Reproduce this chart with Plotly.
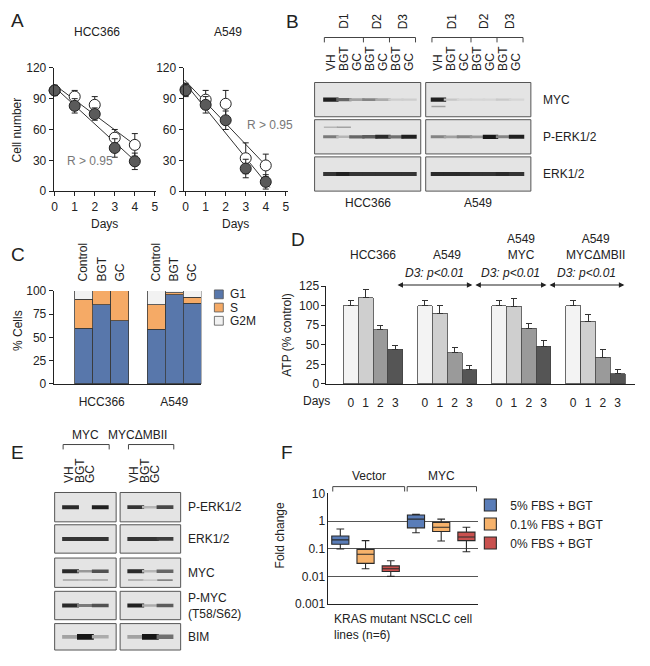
import plotly.graph_objects as go
import numpy as np

# The page body has an 8px margin, so the figure is laid out in screen pixels
# and converted to figure-relative coordinates.
OFF = 8
FW, FH = 634, 650
FONT = "Liberation Sans, Arial, Helvetica, sans-serif"
DARK = "#222222"

# ---------------- data ----------------
# Panel A
days = [0, 1, 2, 3, 4]
a_xticks = [0, 1, 2, 3, 4, 5]
a_yticks = [0, 30, 60, 90, 120]
hcc_bgt = [98, 83, 75, 42, 29]
hcc_bgt_err = [5, 7, 6, 9, 8]
hcc_gc = [98, 92, 84, 52, 45]
hcc_gc_err = [5, 6, 8, 8, 11]
a549_bgt = [98, 84, 69, 22, 9]
a549_bgt_err = [6, 8, 9, 9, 7]
a549_gc = [99, 89, 85, 32, 25]
a549_gc_err = [6, 9, 13, 15, 11]

# Panel B (band intensities 0..1 per lane)
b_lanes = ["VH", "BGT", "GC", "BGT", "GC", "BGT", "GC"]
b_days = ["D1", "D2", "D3"]
b_day_lanes = [[0, 2], [3, 4], [5, 6]]
b_rows = ["MYC", "P-ERK1/2", "ERK1/2"]
b_hcc_myc = [0.95, 0.6, 0.3, 0.45, 0.25, 0.08, 0.08]
b_hcc_perk = [0.5, 0.2, 0.6, 0.65, 0.9, 0.55, 0.95]
b_hcc_perk_upper = [0.2, 0.3, 0, 0, 0, 0, 0]
b_hcc_erk = [0.85, 0.95, 0.85, 0.85, 0.85, 0.85, 0.85]
b_a549_myc = [0.95, 0.12, 0.04, 0.04, 0.04, 0.1, 0.04]
b_a549_myc_lower = [0.3, 0, 0, 0, 0, 0, 0]
b_a549_perk = [0.45, 0.3, 0.45, 0.35, 1.0, 0.45, 0.95]
b_a549_erk = [0.9, 0.9, 0.9, 0.85, 0.85, 0.9, 0.85]

# Panel C
c_labels = ["Control", "BGT", "GC", "Control", "BGT", "GC"]
c_groups = ["HCC366", "A549"]
c_g1 = [60, 85, 68, 59, 96, 87]
c_s = [31, 15, 32, 26, 2, 6]
c_g2m = [9, 0, 0, 15, 2, 7]
c_phases = ["G1", "S", "G2M"]
c_yticks = [0, 25, 50, 75, 100]

# Panel D
d_groups = ["HCC366", "A549", "A549<br>MYC", "A549<br>MYC\u0394MBII"]
d_days = ["0", "1", "2", "3"]
d_vals = [[100, 110, 69, 44], [100, 90, 40, 18], [100, 99, 71, 48], [100, 80, 34, 13]]
d_err = [[7, 10, 5, 5], [7, 10, 7, 6], [7, 10, 6, 8], [7, 9, 10, 6]]
d_yticks = [0, 25, 50, 75, 100, 125]
d_pval = "D3: p&lt;0.01"

# Panel E
e_lanes = ["VH", "BGT", "GC"]
e_cols = ["MYC", "MYC\u0394MBII"]
e_rows = ["P-ERK1/2", "ERK1/2", "MYC", "P-MYC<br>(T58/S62)", "BIM"]
e_myc_perk = [0.9, 0.0, 0.95]
e_dmb_perk = [0.85, 0.2, 0.75]
e_myc_erk = [0.85, 0.85, 0.85]
e_dmb_erk = [0.85, 0.85, 0.8]
e_myc_myc = [0.9, 0.35, 0.7]
e_myc_myc_lower = [0.3, 0.25, 0.3]
e_dmb_myc = [0.9, 0.2, 0.6]
e_dmb_myc_lower = [0.3, 0.15, 0.45]
e_myc_pmyc = [0.9, 0.5, 0.7]
e_dmb_pmyc = [0.95, 0.25, 0.65]
e_myc_bim = [0.3, 1.0, 0.25]
e_dmb_bim = [0.3, 1.0, 0.55]

# Panel F (box statistics, fold change)
f_groups = ["Vector", "MYC"]
f_conds = ["5% FBS + BGT", "0.1% FBS + BGT", "0% FBS + BGT"]
f_lo = [[0.098, 0.38], [0.019, 0.19], [0.010, 0.078]]
f_q1 = [[0.146, 0.57], [0.0295, 0.42], [0.015, 0.197]]
f_med = [[0.21, 1.18], [0.063, 0.6], [0.019, 0.265]]
f_q3 = [[0.29, 1.67], [0.095, 0.9], [0.024, 0.4]]
f_hi = [[0.52, 1.77], [0.197, 1.18], [0.037, 0.6]]
f_yticks = [0.001, 0.01, 0.1, 1, 10]
f_note = "KRAS mutant NSCLC cell<br>lines (n=6)"

# ---------------- helpers ----------------
fig = go.Figure()
layout = dict(width=FW, height=FH, margin=dict(l=0, r=0, t=0, b=0),
              paper_bgcolor="white", plot_bgcolor="white",
              font=dict(family=FONT, size=12, color=DARK),
              barmode="stack", boxmode="overlay", showlegend=True)
shapes = []
anns = []
axn = [0]


def PX(x):
    return (x - OFF) / FW


def PY(y):
    return 1 - (y - OFF) / FH


def new_axes(x0, x1, y0, y1, xr, yr, xkw=None, ykw=None):
    axn[0] += 1
    n = axn[0]
    s = "" if n == 1 else str(n)
    base = dict(showgrid=False, zeroline=False, showline=False,
                showticklabels=False, ticks="", fixedrange=True)
    xa = dict(base, domain=[PX(x0), PX(x1)], range=xr, anchor="y" + s)
    ya = dict(base, domain=[PY(y1), PY(y0)], range=yr, anchor="x" + s)
    if xkw:
        xa.update(xkw)
    if ykw:
        ya.update(ykw)
    layout["xaxis" + s] = xa
    layout["yaxis" + s] = ya
    return "x" + s, "y" + s


def text(x, y, s, size=12, xanchor="center", yanchor="middle", angle=0,
         color=DARK, xref="paper", yref="paper", align="center"):
    anns.append(dict(x=PX(x) if xref == "paper" else x,
                     y=PY(y) if yref == "paper" else y,
                     xref=xref, yref=yref, text=s, showarrow=False,
                     xanchor=xanchor, yanchor=yanchor, textangle=angle,
                     align=align, font=dict(size=size, color=color, family=FONT)))


def bracket(xa, xl, xr, ytop, ybot, dividers=()):
    path = f"M {xl},{PY(ybot)} L {xl},{PY(ytop)} L {xr},{PY(ytop)} L {xr},{PY(ybot)}"
    for d in dividers:
        path += f" M {d},{PY(ytop)} L {d},{PY(ybot)}"
    shapes.append(dict(type="path", xref=xa, yref="paper", path=path,
                       line=dict(color="#444", width=1)))


BLOT_BG = "#e4e4e4"


def band_color(v):
    g = int(round(222 - v * 200))
    return f"rgb({g},{g},{g})"


def blot_bg(xa, ya):
    shapes.append(dict(type="rect", xref=xa + " domain", yref=ya + " domain",
                       x0=0, x1=1, y0=0, y1=1, fillcolor=BLOT_BG,
                       line=dict(color="#555", width=1), layer="below"))


def add_bands(xa, ya, vals, ypos=0.5, length=11, thick=3.0):
    xs = [i for i, v in enumerate(vals) if v > 0]
    vs = [v for v in vals if v > 0]
    fig.add_trace(go.Scatter(
        x=xs, y=[ypos] * len(xs), mode="markers", xaxis=xa, yaxis=ya,
        marker=dict(symbol="line-ew", size=length,
                    line=dict(width=[thick * (0.55 + 0.6 * v) for v in vs],
                              color=[band_color(v) for v in vs])),
        hoverinfo="skip", showlegend=False, cliponaxis=True))


# ---------------- Panel A ----------------
def a_y(py):
    return (188 - py) * 120 / 126


axis_line = dict(showline=True, linecolor=DARK, linewidth=1, ticks="outside",
                 ticklen=4, tickcolor=DARK, showticklabels=True,
                 tickfont=dict(size=12))
a_panels = [
    (52, 155, [-0.05, 5.05], hcc_bgt, hcc_bgt_err, hcc_gc, hcc_gc_err, "HCC366", 96, (89, 157)),
    (183, 288, [-0.1, 5.1], a549_bgt, a549_bgt_err, a549_gc, a549_gc_err, "A549", 228, (270, 120)),
]
for (x0, x1, xr, bgt, bgt_e, gc, gc_e, title, tx, rpos) in a_panels:
    xa, ya = new_axes(x0, x1, 62, 188, xr, [0, 120],
                      dict(axis_line, tickvals=a_xticks),
                      dict(axis_line, tickvals=a_yticks))
    for yv in (bgt, gc):
        coef = np.polyfit(days, yv, 1)
        lx = np.array([-0.05, 4.2])
        fig.add_trace(go.Scatter(x=lx, y=np.polyval(coef, lx), mode="lines",
                                 line=dict(color="#333", width=1), xaxis=xa, yaxis=ya,
                                 hoverinfo="skip", showlegend=False, cliponaxis=False))
    for yv, ev, fill in ((gc, gc_e, "white"), (bgt, bgt_e, "#5a5a5a")):
        fig.add_trace(go.Scatter(
            x=days, y=yv, mode="markers", xaxis=xa, yaxis=ya, cliponaxis=False,
            error_y=dict(type="data", array=ev, color="#222", thickness=1, width=3),
            marker=dict(size=11, color=fill, line=dict(color="#222", width=1)),
            hoverinfo="skip", showlegend=False))
    # mini legend
    for nm, fill, py in (("BGT", "#5a5a5a", 49), ("GC", "white", 59.5)):
        fig.add_trace(go.Scatter(x=[1], y=[a_y(py)], mode="markers", xaxis=xa, yaxis=ya,
                                 cliponaxis=False, hoverinfo="skip", showlegend=False,
                                 marker=dict(size=10, color=fill, line=dict(color="#222", width=1))))
        text(1.55, a_y(py), nm, size=12, xanchor="left", xref=xa, yref=ya)
    text(tx, 25, title, size=12)
    text(rpos[0], rpos[1], "R &gt; 0.95", size=12, color="#777")
    text((x0 + x1) / 2, 222, "Days", size=12)
text(16, 125, "Cell number", size=12, angle=-90)

# ---------------- Panel B ----------------
b_cols = [
    (315, 422, [-1.25, 6.9], [b_hcc_myc, b_hcc_perk, b_hcc_erk], "HCC366"),
    (427, 533, [-0.98, 7.1], [b_a549_myc, b_a549_perk, b_a549_erk], "A549"),
]
b_row_y = [(77, 112), (115, 150), (153, 188)]
for ci, (x0, x1, xr, rows, name) in enumerate(b_cols):
    for ri, (y0, y1) in enumerate(b_row_y):
        xkw = None
        if ri == 0:
            xkw = dict(side="top", showticklabels=True, tickvals=list(range(len(b_lanes))),
                       ticktext=b_lanes, tickangle=-90, ticks="outside", ticklen=8,
                       tickcolor="rgba(0,0,0,0)", tickfont=dict(size=12))
        xa, ya = new_axes(x0, x1, y0, y1, xr, [0, 1], xkw)
        blot_bg(xa, ya)
        add_bands(xa, ya, rows[ri], 0.5, length=11, thick=3.6)
        if ri == 0 and ci == 1:
            add_bands(xa, ya, b_a549_myc_lower, 0.3, length=10, thick=2)
        if ri == 1 and ci == 0:
            add_bands(xa, ya, b_hcc_perk_upper, 0.78, length=10, thick=2)
        if ri == 0:
            divs = [b_day_lanes[k][1] + 0.5 for k in range(len(b_day_lanes) - 1)]
            bracket(xa, -0.5, len(b_lanes) - 0.5, 31, 36, divs)
            for k, d in enumerate(b_days):
                lo, hi = b_day_lanes[k]
                text((lo + hi) / 2, 14, d, size=12, angle=-90, xref=xa, yref="paper")
    text((x0 + x1) / 2, 200, name, size=12)
for ri, (y0, y1) in enumerate(b_row_y):
    text(543, (y0 + y1) / 2, b_rows[ri], size=12, xanchor="left")

# ---------------- Panel C ----------------
c_pos = [i + i // 3 for i in range(len(c_labels))]
c_colors = ["#5877ab", "#f5aa66", "#f2f2f2"]
xc, yc = new_axes(52, 201, 290, 385, [-1.65, 6.5], [0, 100],
                  dict(showline=True, linecolor=DARK, showticklabels=True,
                       tickvals=[1, 5], ticktext=c_groups, ticks="outside", ticklen=7,
                       tickcolor="rgba(0,0,0,0)", tickfont=dict(size=12)),
                  dict(axis_line, tickvals=c_yticks))
for vals, col, nm in zip((c_g1, c_s, c_g2m), c_colors, c_phases):
    fig.add_trace(go.Bar(x=c_pos, y=vals, width=1, marker=dict(color=col, line=dict(color="#3a3a3a", width=0.8)),
                         xaxis=xc, yaxis=yc, showlegend=False, hoverinfo="skip"))
axn[0] += 1
ctop = "x" + str(axn[0])
layout["xaxis" + str(axn[0])] = dict(overlaying=xc, side="top", range=[-1.65, 6.5], anchor=yc,
                                      showgrid=False, zeroline=False, showline=False,
                                      tickvals=c_pos, ticktext=c_labels, tickangle=-90,
                                      ticks="outside", ticklen=6, tickcolor="rgba(0,0,0,0)",
                                      tickfont=dict(size=12), fixedrange=True)
fig.add_trace(go.Scatter(x=[0], y=[0], xaxis=ctop, yaxis=yc, mode="markers",
                         marker=dict(opacity=0), hoverinfo="skip", showlegend=False))
for k, (nm, col) in enumerate(zip(c_phases, c_colors)):
    yy = 293.5 + 13.5 * k
    shapes.append(dict(type="rect", xref="paper", yref="paper", x0=PX(214), x1=PX(223),
                       y0=PY(yy + 4.5), y1=PY(yy - 4.5), fillcolor=col,
                       line=dict(color="#555", width=0.8)))
    text(228, yy, nm, size=12, xanchor="left")
text(16, 330, "% Cells", size=12, angle=-90)

# ---------------- Panel D ----------------
d_colors = ["#f3f3f3", "#cfcfcf", "#9a9a9a", "#555555"]
d_pos = [[g * 5 + i for g in range(len(d_groups))] for i in range(len(d_days))]
xd, yd = new_axes(327, 638, 285, 385, [-1.64, 19.17], [0, 125],
                  dict(showline=True, linecolor=DARK, showticklabels=True,
                       tickvals=[p for row in d_pos for p in row],
                       ticktext=[d_days[i] for i in range(len(d_days)) for _ in d_groups],
                       ticks="outside", ticklen=8, tickcolor="rgba(0,0,0,0)", tickfont=dict(size=12)),
                  dict(axis_line, tickvals=d_yticks))
for i in range(len(d_days)):
    fig.add_trace(go.Bar(
        x=d_pos[i], y=[d_vals[g][i] for g in range(len(d_groups))], width=1,
        marker=dict(color=d_colors[i], line=dict(color="#444", width=0.8)),
        error_y=dict(type="data", array=[d_err[g][i] for g in range(len(d_groups))],
                     arrayminus=[0] * len(d_groups), symmetric=False,
                     color="#333", thickness=1, width=3),
        xaxis=xd, yaxis=yd, showlegend=False, hoverinfo="skip"))
for g, nm in enumerate(d_groups):
    yy = 253 if "<br>" not in nm else 245
    text(g * 5 + 1.5, yy, nm, size=12, xref=xd, yref="paper")
arrow_yd = 1 + (285 - 284) / 100
for (a0, a1) in [(3.05, 8.2), (8.3, 13.2), (13.3, 18.45)]:
    anns.append(dict(x=a1, y=arrow_yd, ax=a0, ay=arrow_yd, xref=xd, yref=yd + " domain",
                     axref=xd, ayref=yd + " domain", text="", showarrow=True,
                     arrowhead=2, arrowside="end+start", arrowsize=1, arrowwidth=1.1,
                     arrowcolor="#222"))
    text((a0 + a1) / 2, 272, "<i>" + d_pval + "</i>", size=12, xref=xd, yref="paper")
text(317, 403, "Days", size=12)
text(287, 335, "ATP (% control)", size=12, angle=-90)

# ---------------- Panel E ----------------
e_cols_px = [(53, 115, [e_myc_perk, e_myc_erk, e_myc_myc, e_myc_pmyc, e_myc_bim], e_myc_myc_lower, 84),
             (119, 180, [e_dmb_perk, e_dmb_erk, e_dmb_myc, e_dmb_pmyc, e_dmb_bim], e_dmb_myc_lower, 137)]
e_row_y = [(496, 526), (529, 558), (563, 593), (597, 626), (630, 657)]
for ci, (x0, x1, rows, lower, lx) in enumerate(e_cols_px):
    for ri, (y0, y1) in enumerate(e_row_y):
        xkw = None
        if ri == 0:
            xkw = dict(side="top", showticklabels=True, tickvals=[-0.1, 0.62, 1.3],
                       ticktext=e_lanes, tickangle=-90, ticks="outside", ticklen=6,
                       tickcolor="rgba(0,0,0,0)", tickfont=dict(size=12))
        xa, ya = new_axes(x0, x1, y0, y1, [-1.07, 3.07], [0, 1], xkw)
        blot_bg(xa, ya)
        ypos = 0.55 if ri == 2 else 0.5
        thick = 5 if ri == 4 else 3.6
        add_bands(xa, ya, rows[ri], ypos, length=12, thick=thick)
        if ri == 2:
            add_bands(xa, ya, lower, 0.25, length=11, thick=2)
        if ri == 0:
            bracket(xa, -0.5, 2.6, 447, 452)
    text(lx, 437, e_cols[ci], size=12)
for ri, (y0, y1) in enumerate(e_row_y):
    text(185, (y0 + y1) / 2, e_rows[ri], size=12, xanchor="left", align="left")

# ---------------- Panel F ----------------
f_fill = ["#5a7db8", "#f6b26b", "#c9514f"]
xf, yf = new_axes(329, 480, 497, 610, [-0.47, 5.47], [-3, 1],
                  dict(showline=True, linecolor=DARK),
                  dict(type="log", showline=True, linecolor=DARK, showticklabels=True,
                       tickvals=f_yticks, ticktext=[str(v) for v in f_yticks],
                       showgrid=True, gridcolor="#555", gridwidth=1, tickfont=dict(size=12)))
for k, nm in enumerate(f_conds):
    fig.add_trace(go.Box(
        x=[k, k + 3], q1=f_q1[k], median=f_med[k], q3=f_q3[k],
        lowerfence=f_lo[k], upperfence=f_hi[k], name=nm,
        fillcolor=f_fill[k], line=dict(color="#2a2a2a", width=1.1),
        width=0.68, whiskerwidth=0.45, boxpoints=False,
        xaxis=xf, yaxis=yf, hoverinfo="skip", showlegend=True))
bracket(xf, -0.3, 2.55, 490, 495)
bracket(xf, 2.65, 5.4, 490, 495)
text(370, 479, f_groups[0], size=12)
text(443, 479, f_groups[1], size=12)
text(333, 633, f_note, size=12, xanchor="left", align="left")
text(280, 540, "Fold change", size=12, angle=-90)
layout["legend"] = dict(x=PX(472), y=PY(494), xanchor="left", yanchor="top",
                        font=dict(size=12), bgcolor="rgba(0,0,0,0)", tracegroupgap=0,
                        itemwidth=30, traceorder="normal")

# ---------------- Panel letters ----------------
for (lx, ly, s) in [(16, 14, "A"), (293, 15, "B"), (16, 253, "C"), (298, 237, "D"),
                    (16, 455, "E"), (287, 455, "F")]:
    text(lx, ly, s, size=19)

layout["shapes"] = shapes
layout["annotations"] = anns
fig.update_layout(**layout)
fig.write_html("out.html")
